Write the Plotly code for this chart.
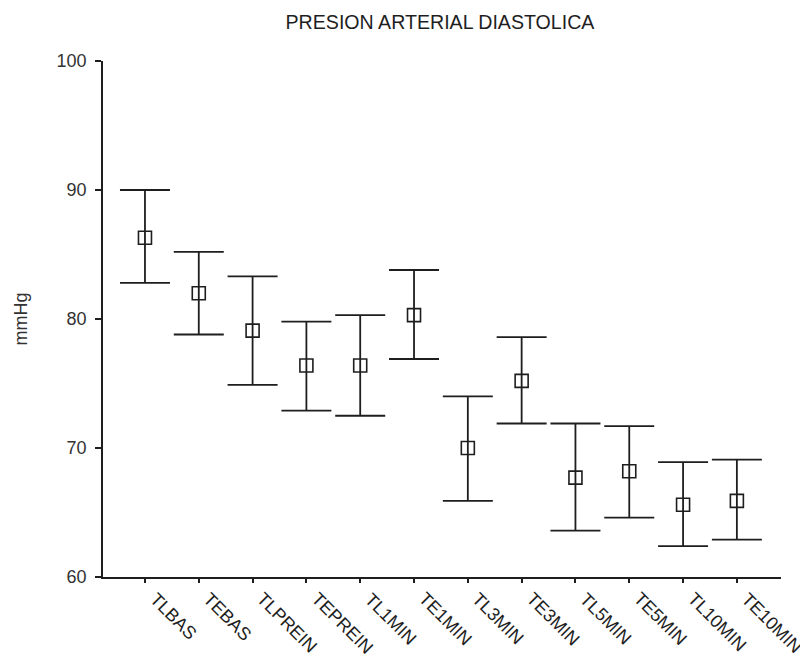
import plotly.graph_objects as go

categories = ["TLBAS", "TEBAS", "TLPREIN", "TEPREIN", "TL1MIN", "TE1MIN",
              "TL3MIN", "TE3MIN", "TL5MIN", "TE5MIN", "TL10MIN", "TE10MIN"]
means = [86.3, 82.0, 79.1, 76.4, 76.4, 80.3, 70.0, 75.2, 67.7, 68.2, 65.6, 65.9]
upper = [90.0, 85.2, 83.3, 79.8, 80.3, 83.8, 74.0, 78.6, 71.9, 71.7, 68.9, 69.1]
lower = [82.8, 78.8, 74.9, 72.9, 72.5, 76.9, 65.9, 71.9, 63.6, 64.6, 62.4, 62.9]
y_ticks = [60, 70, 80, 90, 100]

x_idx = list(range(len(categories)))
err_plus = [u - m for u, m in zip(upper, means)]
err_minus = [m - l for m, l in zip(means, lower)]

ink = "#1e1e1e"

fig = go.Figure()
fig.add_trace(go.Scatter(
    x=x_idx, y=means, mode="markers",
    marker=dict(symbol="square-open", size=13, color=ink, line=dict(width=1.6, color=ink)),
    error_y=dict(type="data", symmetric=False, array=err_plus, arrayminus=err_minus,
                 color=ink, thickness=1.8, width=25),
    showlegend=False,
))

# category labels, rotated 45 degrees below the x axis
for i, name in zip(x_idx, categories):
    fig.add_annotation(
        x=i, y=y_ticks[0], xref="x", yref="y", text=name, showarrow=False,
        textangle=45, xanchor="left", yanchor="top", xshift=-2, yshift=-9,
        font=dict(size=18, color=ink),
    )

fig.update_layout(
    width=800, height=649,
    margin=dict(l=95, r=27, t=53, b=80),
    paper_bgcolor="white", plot_bgcolor="white",
    font=dict(family="Liberation Sans, Arial, sans-serif", color=ink),
    title=dict(text="PRESION ARTERIAL DIASTOLICA", x=0.54, xanchor="center",
               y=0.978, yanchor="middle", font=dict(size=19.6, color=ink)),
    xaxis=dict(
        range=[-0.78, 11.82], tickmode="array", tickvals=x_idx, showticklabels=False,
        ticks="outside", ticklen=4, tickwidth=1.5, tickcolor=ink,
        showline=True, linecolor=ink, linewidth=1.8, showgrid=False, zeroline=False,
        automargin=False,
    ),
    yaxis=dict(
        range=[60, 100], tickmode="array", tickvals=y_ticks,
        ticks="outside", ticklen=6, tickwidth=1.5, tickcolor=ink,
        showline=True, linecolor=ink, linewidth=1.8, showgrid=False, zeroline=False,
        tickfont=dict(size=18, color="#333"), automargin=False, ticklabelstandoff=5,
        title=dict(text="mmHg", font=dict(size=18, color="#333"), standoff=24),
    ),
)

fig.write_html("out.html")
